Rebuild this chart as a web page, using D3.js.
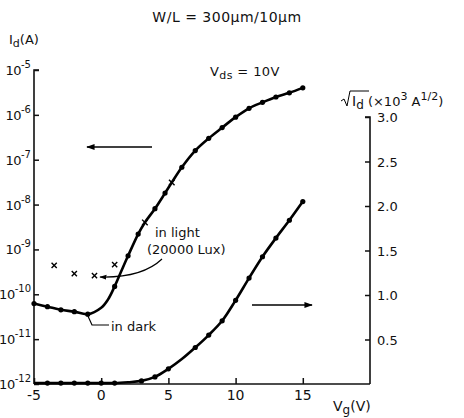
<!DOCTYPE html>
<html>
<head>
<meta charset="utf-8">
<script src="https://cdn.jsdelivr.net/npm/d3@7"></script>
<style>
html,body{margin:0;padding:0;background:#fff;}
svg text{font-family:"DejaVu Sans","Liberation Sans",sans-serif;fill:#111;}
</style>
</head>
<body>
<svg id="chart" width="464" height="418"></svg>
<script>
// ---- data ----
// log-scale Id (left axis) vs Vg: fitted curve through measured points
const logV = [-5,-4,-3,-2,-1,0,0.5,1,1.5,2,2.75,3.25,4,4.75,5.25,6,7,8,9,10,11,12,13,14,15];
const logI = [6.2e-11,5.3e-11,4.5e-11,4.1e-11,3.6e-11,5.0e-11,7.6e-11,1.5e-10,3.3e-10,7.2e-10,2.2e-9,4.0e-9,8.1e-9,1.8e-8,3.1e-8,6.8e-8,1.6e-7,3.0e-7,5.2e-7,8.9e-7,1.4e-6,1.9e-6,2.5e-6,3.1e-6,4.0e-6];
// marker at each point: "o" dot, "x" cross, "" none
const logMark = ["o","o","o","o","o","","","o","","o","o","x","o","o","x","o","o","o","o","o","o","o","o","o","o"];
// in light, subthreshold (x markers)
const lightV = [-3.5,-2,-0.5,1];
const lightI = [4.4e-10,2.9e-10,2.6e-10,4.6e-10];
// sqrt(Id) (right axis, x10^3 A^1/2) vs Vg
const sqV   = [-5,-4,-3,-2,-1,0,1,2,3,4,5,6,7,8,9,10,11,12,13,14,15];
const sqVal = [0.01,0.01,0.01,0.01,0.01,0.01,0.01,0.02,0.035,0.08,0.17,0.28,0.41,0.55,0.71,0.94,1.19,1.43,1.64,1.84,2.05];
const sqMark= [0,1,1,1,1,1,1,0,1,1,1,0,1,1,1,1,1,1,1,1,1];
// ticks
const xTicks = [-5,0,5,10,15];
const leftTicksExp = [-5,-6,-7,-8,-9,-10,-11,-12];
const rightTicks = [0.5,1.0,1.5,2.0,2.5,3.0];

// ---- scales ----
const svg = d3.select("#chart");
const x = d3.scaleLinear().domain([-5,20]).range([34,370]);
const yL = d3.scaleLog().domain([1e-12,1e-5]).range([384,70]);
const yR = d3.scaleLinear().domain([0,3]).range([384,117]);

// ---- axes ----
const axL = svg.append("g").attr("transform","translate(34,0)")
  .call(d3.axisRight(yL).tickValues(leftTicksExp.map(e=>Math.pow(10,e))).tickSize(5).tickFormat(""));
axL.select(".domain").attr("d","M0,384V70H5");
const axB = svg.append("g").attr("transform","translate(0,384)")
  .call(d3.axisTop(x).tickValues(xTicks).tickSize(6).tickFormat(""));
axB.select(".domain").attr("d","M34,0H370");
const axR = svg.append("g").attr("transform","translate(370,0)")
  .call(d3.axisLeft(yR).tickValues(rightTicks).tickSize(5).tickFormat(""));
axR.select(".domain").attr("d","M0,384V117H-5");
svg.selectAll(".domain").attr("stroke","#111").attr("stroke-width",1.6);
svg.selectAll(".tick line").attr("stroke","#111").attr("stroke-width",1.5);

// left tick labels 10^n
leftTicksExp.forEach(e=>{
  const t = svg.append("text").attr("x",31).attr("y",yL(Math.pow(10,e))+5)
    .attr("text-anchor","end").attr("font-size",13);
  t.append("tspan").attr("letter-spacing",-0.5).text("10");
  t.append("tspan").attr("dy",-7).attr("font-size",10).text("-"+(-e));
});
// bottom labels
xTicks.forEach(v=>{
  svg.append("text").attr("x",x(v)).attr("y",400).attr("text-anchor","middle")
    .attr("font-size",14).text(v);
});
// right labels
rightTicks.forEach(v=>{
  svg.append("text").attr("x",377).attr("y",yR(v)+5).attr("font-size",13).text(v.toFixed(1));
});

// ---- curves ----
const lineL = d3.line().x((d,i)=>x(logV[i])).y((d,i)=>yL(logI[i])).curve(d3.curveCatmullRom.alpha(0.5));
svg.append("path").attr("d",lineL(logV)).attr("fill","none").attr("stroke","#000").attr("stroke-width",2.6);
const lineR = d3.line().x((d,i)=>x(sqV[i])).y((d,i)=>yR(sqVal[i])).curve(d3.curveCatmullRom.alpha(0.5));
svg.append("path").attr("d",lineR(sqV)).attr("fill","none").attr("stroke","#000").attr("stroke-width",2.6);

// markers
function cross(cx,cy,s){
  svg.append("path").attr("d",`M${cx-s},${cy-s}L${cx+s},${cy+s}M${cx+s},${cy-s}L${cx-s},${cy+s}`)
    .attr("stroke","#000").attr("stroke-width",1.4);
}
logV.forEach((v,i)=>{
  if(logMark[i]==="o") svg.append("circle").attr("cx",x(v)).attr("cy",yL(logI[i])).attr("r",2.6).attr("fill","#000");
  else if(logMark[i]==="x") cross(x(v),yL(logI[i]),2.8);
});
lightV.forEach((v,i)=>cross(x(v),yL(lightI[i]),2.6));
sqV.forEach((v,i)=>{
  if(sqMark[i]) svg.append("circle").attr("cx",x(v)).attr("cy",yR(sqVal[i])).attr("r",2.6).attr("fill","#000");
});

// ---- annotations ----
svg.append("defs").append("marker").attr("id","ah").attr("viewBox","0 0 10 10")
  .attr("refX",9).attr("refY",5).attr("markerWidth",6).attr("markerHeight",6).attr("orient","auto")
  .append("path").attr("d","M0,1.5L10,5L0,8.5Z").attr("fill","#000");
svg.append("line").attr("x1",152).attr("y1",147).attr("x2",87).attr("y2",147)
  .attr("stroke","#000").attr("stroke-width",1.4).attr("marker-end","url(#ah)");
svg.append("line").attr("x1",252).attr("y1",305).attr("x2",312).attr("y2",305)
  .attr("stroke","#000").attr("stroke-width",1.4).attr("marker-end","url(#ah)");
svg.append("path").attr("d","M162,259Q142,278 100,277").attr("fill","none")
  .attr("stroke","#000").attr("stroke-width",1.2).attr("marker-end","url(#ah)");
svg.append("path").attr("d","M87,314L92,325H109").attr("fill","none").attr("stroke","#000").attr("stroke-width",1.2);

svg.append("text").attr("x",227).attr("y",22).attr("text-anchor","middle").attr("font-size",14)
  .attr("letter-spacing",0.5).text("W/L = 300μm/10μm");
const id = svg.append("text").attr("x",9).attr("y",44).attr("font-size",13);
id.append("tspan").text("I");
id.append("tspan").attr("dy",3).attr("font-size",11).text("d");
id.append("tspan").attr("dy",-3).text("(A)");
const vds = svg.append("text").attr("x",210).attr("y",76).attr("font-size",13).attr("letter-spacing",0.4);
vds.append("tspan").text("V");
vds.append("tspan").attr("dy",3).attr("font-size",11).text("ds");
vds.append("tspan").attr("dy",-3).text(" = 10V");
const sq = svg.append("text").attr("x",352).attr("y",106).attr("font-size",14);
sq.append("tspan").text("I");
sq.append("tspan").attr("dy",3).attr("font-size",12).text("d");
sq.append("tspan").attr("dy",-3).attr("font-size",13).text(" (×10");
sq.append("tspan").attr("dy",-6).attr("font-size",11).text("3");
sq.append("tspan").attr("dy",6).attr("font-size",13).text("  A");
sq.append("tspan").attr("dy",-6).attr("font-size",11).text("1/2");
sq.append("tspan").attr("dy",6).attr("font-size",13).text(")");
svg.append("path").attr("d","M341,101L344,99L347,106L350,91H369").attr("fill","none").attr("stroke","#000").attr("stroke-width",1);
svg.append("text").attr("x",155).attr("y",237).attr("font-size",13).text("in light");
svg.append("text").attr("x",147).attr("y",254).attr("font-size",13).text("(20000 Lux)");
svg.append("text").attr("x",111).attr("y",331).attr("font-size",13).text("in dark");
const vg = svg.append("text").attr("x",333).attr("y",411).attr("font-size",14);
vg.append("tspan").text("V");
vg.append("tspan").attr("dy",3).attr("font-size",12).text("g");
vg.append("tspan").attr("dy",-3).text("(V)");
</script>
</body>
</html>
